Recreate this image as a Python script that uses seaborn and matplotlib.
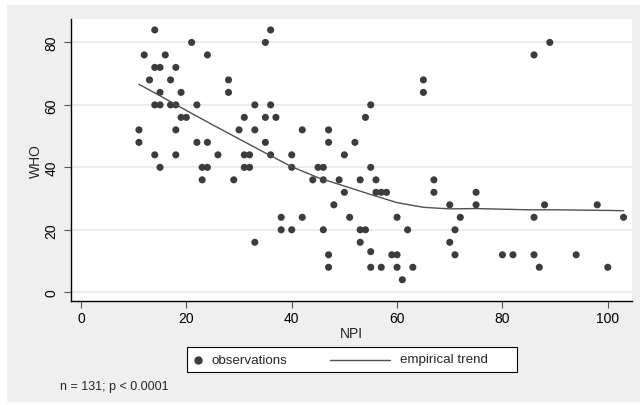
import numpy as np
import pandas as pd
import matplotlib
matplotlib.use("Agg")
import matplotlib.pyplot as plt
from matplotlib.patches import Rectangle
from matplotlib.lines import Line2D
import seaborn as sns

# ---- data ----
npi = [14, 21, 12, 16, 24, 14, 15, 18, 13, 17, 15, 19, 14, 15, 17, 18, 22, 19, 20, 11,
       18, 11, 22, 24, 14, 18, 26, 15, 23, 24, 23, 36, 35, 28, 28, 33, 36, 31, 35, 37,
       30, 33, 42, 47, 35, 47, 52, 31, 32, 36, 40, 50, 31, 32, 40, 45, 46, 29, 44, 46,
       49, 53, 50, 48, 38, 42, 51, 38, 40, 46, 53, 33, 53, 47, 47, 55, 56, 56, 57, 58,
       67, 67, 75, 70, 75, 60, 72, 54, 62, 71, 55, 59, 60, 70, 71, 55, 57, 60, 63, 61,
       65, 65, 55, 54, 89, 86, 88, 98, 86, 103, 80, 82, 86, 94, 87, 100]
who = [84, 80, 76, 76, 76, 72, 72, 72, 68, 68, 64, 64, 60, 60, 60, 60, 60, 56, 56, 52,
       52, 48, 48, 48, 44, 44, 44, 40, 40, 40, 36, 84, 80, 68, 64, 60, 60, 56, 56, 56,
       52, 52, 52, 52, 48, 48, 48, 44, 44, 44, 44, 44, 40, 40, 40, 40, 40, 36, 36, 36,
       36, 36, 32, 28, 24, 24, 24, 20, 20, 20, 20, 16, 16, 12, 8, 40, 36, 32, 32, 32,
       36, 32, 32, 28, 28, 24, 24, 20, 20, 20, 13, 12, 12, 16, 12, 8, 8, 8, 8, 4,
       68, 64, 60, 56, 80, 76, 28, 28, 24, 24, 12, 12, 12, 12, 8, 8]

trend_x = [11, 15, 20, 25, 30, 35, 40, 45, 50, 55, 60, 65, 70, 75, 80, 85, 90, 95, 100, 103]
trend_y = [66.6, 62.9, 58.2, 53.6, 49.1, 44.6, 40.2, 36.7, 34.0, 31.3, 28.7, 27.2, 26.7,
           26.8, 26.6, 26.4, 26.4, 26.3, 26.2, 26.1]

x_ticks = [0, 20, 40, 60, 80, 100]
y_ticks = [0, 20, 40, 60, 80]
legend_labels = ["observations", "empirical trend"]
note_text = "n = 131; p < 0.0001"

obs = pd.DataFrame({"NPI": npi, "WHO": who})
trend = pd.DataFrame({"NPI": trend_x, "WHO": trend_y})

# ---- figure ----
sns.set_style("white")
plt.rcParams["font.family"] = ["Liberation Sans", "DejaVu Sans"]

W, H = 642, 406
PT_COLOR = "#3c3c3c"
LN_COLOR = "#505050"
fig = plt.figure(figsize=(W / 100, H / 100), dpi=100, facecolor="white")
fig.patches.append(Rectangle((7 / W, 3 / H), (W - 9) / W, (H - 9) / H,
                             transform=fig.transFigure, facecolor="#efefef",
                             edgecolor="none", zorder=-10))

ax = fig.add_axes([71 / W, 1 - 302 / H, (632 - 71) / W, (302 - 20) / H])
ax.set_facecolor("white")

sns.scatterplot(data=obs, x="NPI", y="WHO", ax=ax, color=PT_COLOR, s=26,
                edgecolor="none", linewidth=0, zorder=3)
sns.lineplot(data=trend, x="NPI", y="WHO", ax=ax, color=LN_COLOR, linewidth=1.0,
             zorder=4)

ax.set_xlim(-1.9, 104.6)
ax.set_ylim(-2.8, 87.5)
ax.set_xticks(x_ticks)
ax.set_yticks(y_ticks)
ax.yaxis.grid(True, color="#ececec", linewidth=1.4)
ax.xaxis.grid(False)
ax.set_axisbelow(True)

for s in ["top", "right"]:
    ax.spines[s].set_visible(False)
for s in ["left", "bottom"]:
    ax.spines[s].set_color("black")
    ax.spines[s].set_linewidth(1.0)

ax.tick_params(axis="both", which="major", length=5, width=0.8, color="#555555",
               labelsize=10, labelcolor="black", direction="out", left=True, bottom=True)
ax.tick_params(axis="x", pad=2)
ax.tick_params(axis="y", pad=4)
for lab in ax.get_yticklabels():
    lab.set_rotation(90)
    lab.set_va("center")

ax.set_xlabel("NPI", fontsize=10, labelpad=1)
ax.set_ylabel("WHO", fontsize=10, labelpad=1)

# ---- legend (built by hand in pixel layout) ----
def fx(px):
    return px / W

def fy(py):
    return 1 - py / H

ly = 360.5
fig.patches.append(Rectangle((fx(187), fy(373)), fx(517) - fx(187), fy(348) - fy(373),
                             transform=fig.transFigure, facecolor="white",
                             edgecolor="black", linewidth=0.8, zorder=5))
fig.lines.append(Line2D([fx(198)], [fy(ly)], transform=fig.transFigure, marker="o",
                        markersize=5.0, color=PT_COLOR, linestyle="none", zorder=6))
fig.text(fx(211.5), fy(ly), legend_labels[0], fontsize=9.6, va="center", ha="left",
         zorder=6)
fig.lines.append(Line2D([fx(330), fx(390)], [fy(ly), fy(ly)], transform=fig.transFigure,
                        color=LN_COLOR, linewidth=1.0, zorder=6))
fig.text(fx(400), fy(ly), legend_labels[1], fontsize=9.6, va="center", ha="left",
         zorder=6)

fig.text(fx(60), fy(387), note_text, fontsize=9, va="center", ha="left")

fig.savefig("out.png", dpi=100, facecolor=fig.get_facecolor())
